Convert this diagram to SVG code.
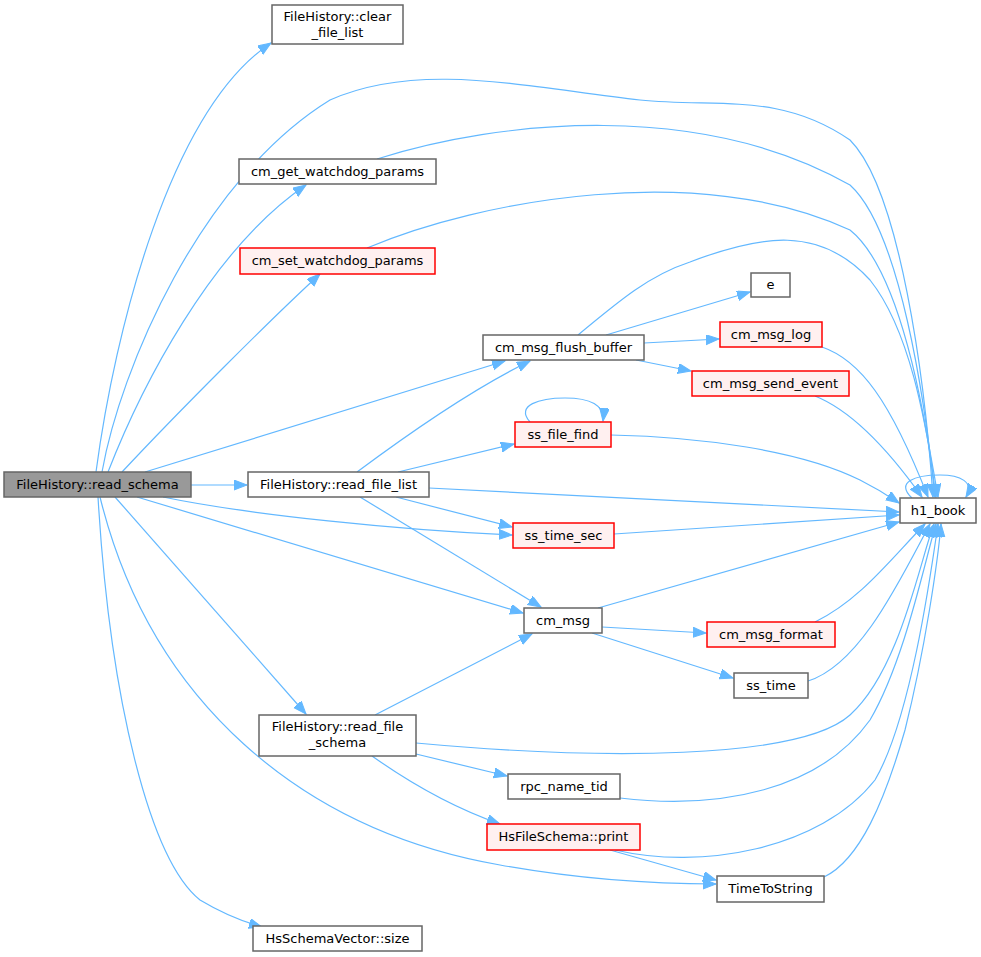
<svg xmlns="http://www.w3.org/2000/svg" width="981" height="957" viewBox="0 0 981 957">
<style>
.n rect{fill:#ffffff;stroke:#666666;stroke-width:1.5}
.n.red rect{fill:#fff0f0;stroke:#ff0000}
.n.root rect{fill:#999999;stroke:#666666}
.n text{font-family:"DejaVu Sans","Liberation Sans",sans-serif;font-size:13px;fill:#000;text-anchor:middle}
.e path{fill:none;stroke:#63b8ff;stroke-width:1.2;marker-end:url(#ah)}
</style>
<defs>
<marker id="ah" markerUnits="userSpaceOnUse" markerWidth="14" markerHeight="11" refX="13" refY="5" orient="auto">
<path d="M0,0 L13,5 L0,10 z" fill="#63b8ff" stroke="#63b8ff" stroke-width="1"/>
</marker>
</defs>
<rect width="981" height="957" fill="#ffffff"/>
<g class="e" id="edges">
<path d="M96,472 C115,330 170,110 271,43"/>
<path d="M102,472 C120,370 200,180 330,100 C420,60 530,88 640,100 C720,108 780,92 850,140 C900,190 925,380 933,497"/>
<path d="M108,472 C140,390 210,250 306,185"/>
<path d="M377,159 C500,120 700,100 850,185 C900,230 925,400 935,497"/>
<path d="M122,472 C180,410 270,320 320,274"/>
<path d="M367,248 C480,200 700,160 850,230 C900,270 925,410 936,497"/>
<path d="M145,472 L505,361"/>
<path d="M191,485 L247,485"/>
<path d="M163,497 C250,515 400,530 512,535"/>
<path d="M137,497 L523,613"/>
<path d="M115,497 L306,714"/>
<path d="M100,497 C150,700 300,830 500,865 C600,883 680,884 716,884"/>
<path d="M98,497 C110,700 150,860 200,900 Q230,918 262,927"/>
<path d="M357,472 C400,440 470,390 530,361"/>
<path d="M398,472 L514,444"/>
<path d="M429,488 L899,512"/>
<path d="M396,497 L512,527"/>
<path d="M360,497 L541,607"/>
<path d="M578,335 C620,300 650,275 690,262 C760,235 820,225 870,280 C910,330 925,420 938,497"/>
<path d="M606,335 L750,292"/>
<path d="M644,343 L719,339"/>
<path d="M636,360 L691,371"/>
<path d="M822,347 C860,360 890,400 928,497"/>
<path d="M815,396 C850,410 885,445 922,497"/>
<path d="M530,422 C515,405 540,398 565,398 C590,398 605,405 603,421"/>
<path d="M611,435 C700,437 800,450 860,480 Q880,490 899,503"/>
<path d="M614,534 L899,515"/>
<path d="M598,608 L899,522"/>
<path d="M602,627 L706,633"/>
<path d="M592,633 L733,678"/>
<path d="M815,622 C860,600 890,560 925,524"/>
<path d="M808,681 C860,665 900,580 930,524"/>
<path d="M375,715 L532,634"/>
<path d="M416,743 C600,760 800,760 850,715 C900,670 920,560 934,524"/>
<path d="M416,754 L507,776"/>
<path d="M372,756 C420,790 460,810 500,824"/>
<path d="M620,798 C720,810 820,790 870,720 C905,660 925,560 936,524"/>
<path d="M615,850 C700,870 820,850 875,780 C910,720 930,580 938,524"/>
<path d="M610,850 L716,880"/>
<path d="M824,877 C860,860 885,800 905,730 C925,650 938,560 941,524"/>
<path d="M912,498 C895,482 915,475 940,475 C960,475 975,482 966,497"/>
</g>
<g class="n root" id="read_schema"><rect x="4" y="472" width="187" height="25"/><text x="97.5" y="489">FileHistory::read_schema</text></g>
<g class="n" id="clear_file_list"><rect x="272" y="5" width="131" height="39"/><text x="337.5" y="21">FileHistory::clear</text><text x="337.5" y="37">_file_list</text></g>
<g class="n" id="cm_get_watchdog_params"><rect x="239" y="159" width="197" height="25"/><text x="337.5" y="176">cm_get_watchdog_params</text></g>
<g class="n red" id="cm_set_watchdog_params"><rect x="240" y="248" width="195" height="26"/><text x="337.5" y="265">cm_set_watchdog_params</text></g>
<g class="n" id="cm_msg_flush_buffer"><rect x="483" y="335" width="161" height="25"/><text x="563.5" y="352">cm_msg_flush_buffer</text></g>
<g class="n" id="read_file_list"><rect x="248" y="472" width="181" height="25"/><text x="338.5" y="489">FileHistory::read_file_list</text></g>
<g class="n" id="e"><rect x="751" y="273" width="39" height="24"/><text x="770.5" y="289">e</text></g>
<g class="n red" id="cm_msg_log"><rect x="720" y="322" width="102" height="25"/><text x="771" y="339">cm_msg_log</text></g>
<g class="n red" id="cm_msg_send_event"><rect x="692" y="371" width="157" height="25"/><text x="770.5" y="388">cm_msg_send_event</text></g>
<g class="n red" id="ss_file_find"><rect x="515" y="422" width="96" height="25"/><text x="563" y="439">ss_file_find</text></g>
<g class="n red" id="ss_time_sec"><rect x="513" y="523" width="101" height="25"/><text x="563.5" y="540">ss_time_sec</text></g>
<g class="n" id="h1_book"><rect x="900" y="498" width="76" height="25"/><text x="938" y="515">h1_book</text></g>
<g class="n" id="cm_msg"><rect x="524" y="608" width="78" height="25"/><text x="563" y="625">cm_msg</text></g>
<g class="n red" id="cm_msg_format"><rect x="707" y="622" width="128" height="25"/><text x="771" y="639">cm_msg_format</text></g>
<g class="n" id="ss_time"><rect x="734" y="673" width="74" height="25"/><text x="771" y="690">ss_time</text></g>
<g class="n" id="read_file_schema"><rect x="259" y="715" width="157" height="41"/><text x="337.5" y="731">FileHistory::read_file</text><text x="337.5" y="747">_schema</text></g>
<g class="n" id="rpc_name_tid"><rect x="508" y="774" width="112" height="25"/><text x="564" y="791">rpc_name_tid</text></g>
<g class="n red" id="HsFileSchema_print"><rect x="487" y="824" width="153" height="26"/><text x="563.5" y="841">HsFileSchema::print</text></g>
<g class="n" id="TimeToString"><rect x="717" y="876" width="107" height="26"/><text x="770.5" y="893">TimeToString</text></g>
<g class="n" id="HsSchemaVector_size"><rect x="253" y="926" width="169" height="25"/><text x="337.5" y="943">HsSchemaVector::size</text></g>
</svg>
